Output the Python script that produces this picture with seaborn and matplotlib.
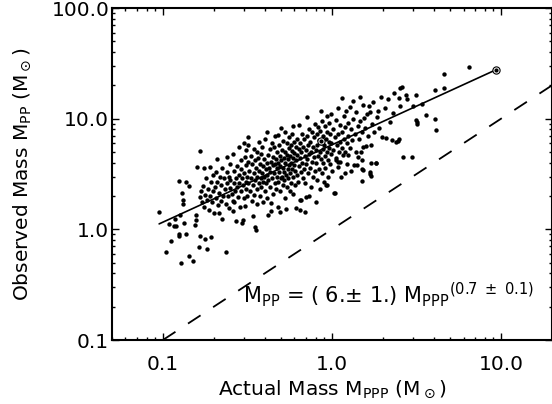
import numpy as np
import pandas as pd
import matplotlib
matplotlib.use("Agg")
import matplotlib.pyplot as plt
import seaborn as sns
from matplotlib.ticker import FixedLocator, FixedFormatter, LogLocator, NullFormatter

# ---------------- data ----------------
actual_mass = [
    0.095, 0.105, 0.109, 0.112, 0.116, 0.120, 0.124, 0.124, 0.125, 0.128, 0.130, 0.131, 0.132, 0.134, 0.137, 0.137, 0.143, 0.143, 0.118, 0.127,
    0.150, 0.154, 0.156, 0.158, 0.160, 0.164, 0.165, 0.166, 0.175, 0.177, 0.182, 0.190, 0.193, 0.165, 0.168, 0.170, 0.172, 0.175, 0.178, 0.180, 0.182, 0.185, 0.188, 0.190, 0.192, 0.195, 0.197, 0.198,
    0.200, 0.202, 0.205, 0.207, 0.210, 0.210, 0.212, 0.215, 0.216, 0.218, 0.220, 0.222, 0.225, 0.225, 0.228, 0.230, 0.232, 0.235, 0.237, 0.238, 0.240, 0.240, 0.242, 0.245, 0.245, 0.248, 0.250, 0.250,
    0.255, 0.258, 0.260, 0.260, 0.262, 0.265, 0.265, 0.268, 0.270, 0.272, 0.275, 0.275, 0.278, 0.280, 0.280, 0.283, 0.285, 0.288, 0.290, 0.290, 0.292, 0.295, 0.297, 0.297, 0.300, 0.300, 0.302, 0.305, 0.305, 0.308, 0.310, 0.310, 0.312, 0.315, 0.316, 0.318, 0.318, 0.320, 0.320,
    0.325, 0.328, 0.330, 0.332, 0.335, 0.338, 0.341, 0.342, 0.345, 0.345, 0.348, 0.349, 0.350, 0.352, 0.354, 0.355, 0.358, 0.360, 0.360, 0.362, 0.365, 0.368, 0.370, 0.372, 0.375, 0.375, 0.378, 0.380, 0.382, 0.385, 0.388, 0.390, 0.390, 0.392, 0.395, 0.398,
    0.400, 0.402, 0.405, 0.408, 0.410, 0.410, 0.412, 0.415, 0.418, 0.420, 0.420, 0.425, 0.428, 0.430, 0.432, 0.435, 0.437, 0.437, 0.440, 0.440, 0.445, 0.448, 0.450, 0.452, 0.455, 0.458, 0.460, 0.462, 0.465, 0.468, 0.470, 0.472, 0.475, 0.478, 0.480, 0.480, 0.482, 0.485, 0.488, 0.490, 0.490, 0.492, 0.495, 0.498,
    0.500, 0.500, 0.505, 0.508, 0.510, 0.512, 0.515, 0.518, 0.520, 0.522, 0.525, 0.528, 0.530, 0.530, 0.535, 0.536, 0.540, 0.542, 0.545, 0.548, 0.550, 0.552, 0.555, 0.558, 0.560, 0.562, 0.565, 0.568, 0.570, 0.572, 0.575, 0.578, 0.580, 0.582, 0.585, 0.588, 0.590, 0.590, 0.595, 0.598, 0.600, 0.605, 0.608, 0.610, 0.612, 0.615, 0.618, 0.620, 0.625,
    0.630, 0.635, 0.638, 0.640, 0.644, 0.645, 0.650, 0.650, 0.655, 0.660, 0.660, 0.665, 0.668, 0.670, 0.675, 0.680, 0.685, 0.689, 0.690, 0.695, 0.700, 0.700, 0.705, 0.710, 0.710, 0.715, 0.720, 0.725, 0.730, 0.730, 0.735, 0.740, 0.745, 0.750, 0.755, 0.760, 0.765, 0.770, 0.775, 0.780, 0.785, 0.790, 0.795, 0.800, 0.800,
    0.805, 0.810, 0.815, 0.820, 0.825, 0.830, 0.835, 0.840, 0.845, 0.850, 0.855, 0.860, 0.860, 0.865, 0.870, 0.875, 0.880, 0.885, 0.890, 0.895, 0.900, 0.905, 0.910, 0.915, 0.920, 0.920, 0.930, 0.930, 0.935, 0.940, 0.945, 0.950, 0.955, 0.960, 0.965, 0.970, 0.975, 0.980, 0.985, 0.990,
    1.00, 1.01, 1.02, 1.03, 1.04, 1.04, 1.05, 1.06, 1.06, 1.07, 1.08, 1.08, 1.08, 1.09, 1.10, 1.11, 1.11, 1.12, 1.13, 1.14, 1.15, 1.15, 1.16, 1.17, 1.18, 1.19, 1.19, 1.20, 1.21, 1.22, 1.23, 1.24, 1.24, 1.25,
    1.27, 1.28, 1.29, 1.30, 1.31, 1.33, 1.34, 1.35, 1.36, 1.38, 1.39, 1.41, 1.42, 1.43, 1.44, 1.46, 1.47, 1.49, 1.50, 1.51, 1.51, 1.51, 1.53, 1.53, 1.53, 1.55, 1.57,
    1.59, 1.61, 1.63, 1.66, 1.67, 1.67, 1.68, 1.69, 1.69, 1.71, 1.72, 1.75, 1.78, 1.81, 1.83, 1.85, 1.87, 1.90, 1.96, 1.98,
    2.05, 2.09, 2.14, 2.20, 2.25, 2.30, 2.33, 2.38, 2.44, 2.49, 2.49, 2.51,
    2.52, 2.60, 2.64, 2.73, 2.79, 2.98, 3.01, 3.12, 3.15, 3.20, 3.20,
    3.40, 3.60, 4.06, 4.08, 4.10, 4.60, 4.60, 6.44,
]
observed_mass = [
    1.43, 0.63, 1.11, 0.79, 1.07, 1.07, 2.74, 0.91, 0.87, 0.50, 2.15, 1.85, 1.70, 1.14, 2.70, 0.91, 2.47, 0.58, 1.25, 1.35,
    0.52, 1.10, 1.22, 1.35, 3.69, 0.69, 0.87, 5.10, 3.57, 0.82, 0.66, 3.69, 0.85, 1.95, 2.20, 1.75, 2.45, 1.60, 2.05, 2.90, 1.85, 2.30, 1.50, 2.00, 2.70, 1.75, 3.10, 2.20,
    1.40, 2.40, 3.30, 1.90, 4.30, 2.70, 1.65, 2.15, 1.40, 3.00, 2.50, 1.80, 1.24, 3.60, 2.00, 2.90, 2.30, 1.70, 0.63, 3.30, 4.54, 2.60, 2.00, 1.55, 3.00, 2.35, 2.80, 3.90,
    2.10, 1.80, 1.45, 4.80, 2.60, 1.78, 3.40, 2.20, 2.90, 1.18, 3.70, 2.40, 1.95, 5.60, 3.10, 2.60, 1.60, 4.20, 2.20, 3.50, 2.90, 1.15, 1.22, 2.50, 6.00, 3.20, 1.90, 1.61, 4.50, 2.70, 3.80, 2.30, 5.20, 3.00, 2.00, 6.90, 4.10, 5.80, 2.60,
    3.40, 2.20, 4.60, 2.90, 1.80, 3.90, 1.31, 2.50, 5.30, 3.20, 2.05, 1.06, 4.20, 2.80, 0.99, 3.60, 2.30, 5.00, 1.70, 3.00, 4.40, 2.60, 3.40, 6.20, 2.00, 3.90, 2.90, 4.80, 2.40, 3.20, 5.60, 1.78, 3.70, 2.70, 4.30, 3.00,
    2.20, 6.50, 3.50, 2.60, 7.50, 4.00, 3.10, 1.90, 1.35, 4.70, 2.80, 3.60, 5.30, 2.40, 3.30, 4.10, 1.45, 1.72, 6.00, 2.90, 3.80, 2.10, 4.50, 3.20, 5.50, 2.60, 3.90, 7.00, 2.30, 4.30, 3.00, 5.00, 3.60, 1.60, 7.10, 4.00, 2.70, 3.30, 5.80, 1.42, 4.60, 2.20, 3.70, 2.90,
    8.30, 4.20, 3.00, 5.20, 2.50, 3.60, 6.30, 4.40, 2.80, 3.30, 5.00, 1.90, 7.60, 4.00, 3.10, 1.52, 4.70, 2.40, 6.00, 3.50, 4.30, 2.90, 5.40, 3.80, 6.80, 2.20, 4.60, 3.20, 5.80, 2.60, 4.00, 7.20, 3.50, 5.10, 2.10, 4.40, 8.50, 3.00, 6.20, 3.80, 4.90, 2.50, 3.40, 5.60, 4.20, 1.55, 6.60, 3.10, 4.70,
    2.70, 5.30, 3.70, 8.80, 1.50, 4.40, 1.85, 6.00, 3.30, 1.85, 5.00, 7.20, 4.00, 2.90, 5.60, 3.50, 6.50, 1.42, 4.60, 2.60, 1.98, 5.20, 3.90, 10.3, 7.00, 4.30, 3.20, 5.80, 2.00, 4.80, 8.00, 3.60, 6.20, 2.40, 5.00, 4.10, 7.60, 3.00, 5.50, 4.50, 6.80, 3.40, 9.00, 1.78, 5.20,
    4.00, 7.20, 2.80, 5.80, 4.60, 8.40, 3.50, 6.40, 5.00, 2.30, 7.80, 11.8, 4.30, 6.00, 3.20, 9.50, 5.30, 4.00, 7.00, 2.70, 5.80, 8.60, 4.60, 3.60, 2.52, 6.60, 2.52, 10.5, 5.00, 7.60, 4.20, 3.00, 6.20, 9.20, 5.40, 3.90, 7.20, 4.80, 11.0, 6.00,
    3.40, 8.00, 5.20, 2.12, 2.12, 6.80, 4.20, 4.40, 9.80, 5.80, 3.64, 4.10, 12.5, 7.20, 5.00, 4.10, 8.80, 6.20, 3.00, 5.40, 15.3, 7.60, 4.70, 10.5, 6.60, 3.26, 5.05, 8.40, 11.8, 6.00, 3.90, 4.70, 9.20, 7.00,
    5.40, 12.8, 3.40, 8.00, 6.40, 14.5, 10.0, 3.85, 7.20, 5.00, 11.5, 3.85, 8.60, 4.54, 6.60, 15.8, 9.60, 5.04, 7.60, 2.76, 3.49, 4.24, 13.3, 5.60, 3.45, 10.2, 8.20,
    5.70, 11.0, 7.00, 13.1, 11.6, 3.33, 3.17, 3.96, 3.06, 5.80, 9.00, 14.2, 7.60, 3.96, 3.96, 10.4, 11.8, 8.20, 15.8, 6.90,
    12.6, 6.67, 15.0, 9.40, 6.45, 11.2, 17.2, 6.20, 6.30, 15.5, 6.50, 13.1,
    18.8, 19.3, 4.48, 16.4, 15.0, 4.55, 12.9, 16.4, 9.75, 8.95, 9.40,
    13.6, 10.8, 18.3, 9.90, 7.96, 25.4, 18.8, 29.2,
]

fit_x = [0.095, 9.3]          # power-law fit, M_PP = 6 M_PPP^0.7
fit_y = [1.12, 27.6]
one_to_one = [0.1, 20.0]      # dashed M_PP = M_PPP line
sun_x = [0.86, 9.3]           # circled points
sun_y = [6.3, 27.6]

x_ticks = [0.1, 1.0, 10.0]
x_tick_labels = ["0.1", "1.0", "10.0"]
y_ticks = [0.1, 1.0, 10.0, 100.0]
y_tick_labels = ["0.1", "1.0", "10.0", "100.0"]

# ---------------- style ----------------
sns.set_theme(style="ticks")
plt.rcParams["font.family"] = ["DejaVu Sans"]
plt.rcParams["mathtext.fontset"] = "dejavusans"
plt.rcParams["lines.scale_dashes"] = False
for key in ["text.color", "axes.labelcolor", "xtick.color", "ytick.color",
            "axes.edgecolor"]:
    plt.rcParams[key] = "black"

fig = plt.figure(figsize=(5.52, 4.04), dpi=100)
W, H = 552.0, 404.0
ax = fig.add_axes([112 / W, 1 - 340 / H, 440 / W, 332 / H])
ax.set_xscale("log")
ax.set_yscale("log")

df = pd.DataFrame({"actual": actual_mass, "observed": observed_mass})
sns.scatterplot(data=df, x="actual", y="observed", s=10, color="black",
                linewidth=0, legend=False, ax=ax, zorder=3)

sns.lineplot(x=fit_x, y=fit_y, color="black", linewidth=1.2,
             estimator=None, sort=False, ax=ax, zorder=4)
sns.lineplot(x=one_to_one, y=one_to_one, color="black", linewidth=1.3,
             estimator=None, sort=False, ax=ax, zorder=2,
             dashes=False)
ax.lines[-1].set_dashes((10.8, 10.8))

ax.plot(sun_x, sun_y, linestyle="none", marker="o", markersize=5.2,
        markerfacecolor="white", markeredgecolor="black", markeredgewidth=0.8, zorder=5)
ax.plot(sun_x, sun_y, linestyle="none", marker="o", markersize=2.0,
        color="black", zorder=6)

ax.set_xlim(0.05, 20)
ax.set_ylim(0.1, 100)

ax.xaxis.set_major_locator(FixedLocator(x_ticks))
ax.xaxis.set_major_formatter(FixedFormatter(x_tick_labels))
ax.yaxis.set_major_locator(FixedLocator(y_ticks))
ax.yaxis.set_major_formatter(FixedFormatter(y_tick_labels))
ax.xaxis.set_minor_locator(LogLocator(base=10, subs=np.arange(2, 10), numticks=20))
ax.yaxis.set_minor_locator(LogLocator(base=10, subs=np.arange(2, 10), numticks=20))
ax.xaxis.set_minor_formatter(NullFormatter())
ax.yaxis.set_minor_formatter(NullFormatter())

ax.tick_params(which="both", direction="in", top=True, right=True, colors="black",
               labelsize=14.5)
ax.tick_params(which="major", length=5, width=1.0)
ax.tick_params(which="minor", length=2.5, width=1.0)
ax.tick_params(axis="x", which="major", pad=11)
ax.tick_params(axis="y", which="major", pad=2)

for s in ax.spines.values():
    s.set_visible(True)
    s.set_linewidth(1.5)
    s.set_color("black")

ax.set_xlabel(r"Actual Mass M$_{\rm PPP}$ (M$_\odot$)", fontsize=14.5, color="black")
ax.set_ylabel(r"Observed Mass M$_{\rm PP}$ (M$_\odot$)", fontsize=14.5, color="black")
ax.xaxis.set_label_coords(0.5, -0.115)
ax.yaxis.set_label_coords(-0.18, 0.5)

ax.text(0.298, 0.114,
        r"M$_{\rm PP}$ = ( 6.$\pm$ 1.) M$_{\rm PPP}$$^{(0.7\ \pm\ 0.1)}$",
        transform=ax.transAxes, fontsize=15, ha="left", va="baseline",
        color="black")

fig.savefig("out.png", dpi=100)
